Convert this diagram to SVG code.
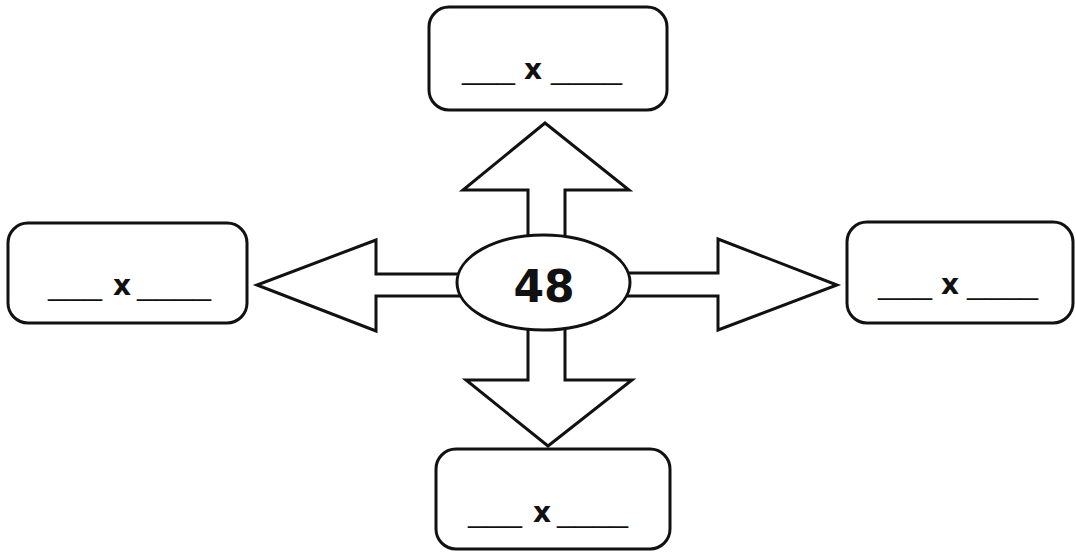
<svg xmlns="http://www.w3.org/2000/svg" width="1076" height="552" viewBox="0 0 1076 552">
<style>
.box{fill:#fff;stroke:#111;stroke-width:3}
.arr{fill:#fff;stroke:#111;stroke-width:3;stroke-linejoin:miter}
.lbl{font-family:"DejaVu Sans",sans-serif;font-weight:bold;font-size:28px;fill:#111}
.blank{font-family:"DejaVu Sans",sans-serif;font-size:24px;fill:#111}
.num{font-family:"DejaVu Sans",sans-serif;font-weight:bold;font-size:44px;fill:#111}
</style>
<rect width="1076" height="552" fill="#fff"/>
<g id="connectors">
<polygon class="arr" points="528,250 528,190 463,190 545,123 629,190 565,190 565,250"/>
<polygon class="arr" points="528,310 528,380 466,380 548,446 632,380 565,380 565,310"/>
<polygon class="arr" points="470,274 376,274 376,240 257,285 376,331 376,296 470,296"/>
<polygon class="arr" points="620,273 718,273 718,239 837,285 718,330 718,296 620,296"/>
</g>
<g id="center">
<ellipse class="box" cx="543.5" cy="282.5" rx="86.5" ry="47.5"/>
<text class="num" x="544" y="302" text-anchor="middle">48</text>
</g>
<g id="top">
<rect class="box" x="429" y="7" width="238" height="103" rx="20"/>
<text y="79"><tspan class="blank" x="462" textLength="53" lengthAdjust="spacingAndGlyphs">___</tspan><tspan class="lbl" x="524">x</tspan><tspan class="blank" x="551" textLength="71" lengthAdjust="spacingAndGlyphs">____</tspan></text>
</g>
<g id="left">
<rect class="box" x="8" y="223" width="239" height="100" rx="20"/>
<text y="295"><tspan class="blank" x="48" textLength="54" lengthAdjust="spacingAndGlyphs">___</tspan><tspan class="lbl" x="113">x</tspan><tspan class="blank" x="137" textLength="74" lengthAdjust="spacingAndGlyphs">____</tspan></text>
</g>
<g id="right">
<rect class="box" x="847" y="222" width="226" height="101" rx="20"/>
<text y="294"><tspan class="blank" x="878" textLength="54" lengthAdjust="spacingAndGlyphs">___</tspan><tspan class="lbl" x="941">x</tspan><tspan class="blank" x="967" textLength="71" lengthAdjust="spacingAndGlyphs">____</tspan></text>
</g>
<g id="bottom">
<rect class="box" x="436" y="449" width="234" height="100" rx="20"/>
<text y="522"><tspan class="blank" x="468" textLength="54" lengthAdjust="spacingAndGlyphs">___</tspan><tspan class="lbl" x="533">x</tspan><tspan class="blank" x="557" textLength="71" lengthAdjust="spacingAndGlyphs">____</tspan></text>
</g>
</svg>
